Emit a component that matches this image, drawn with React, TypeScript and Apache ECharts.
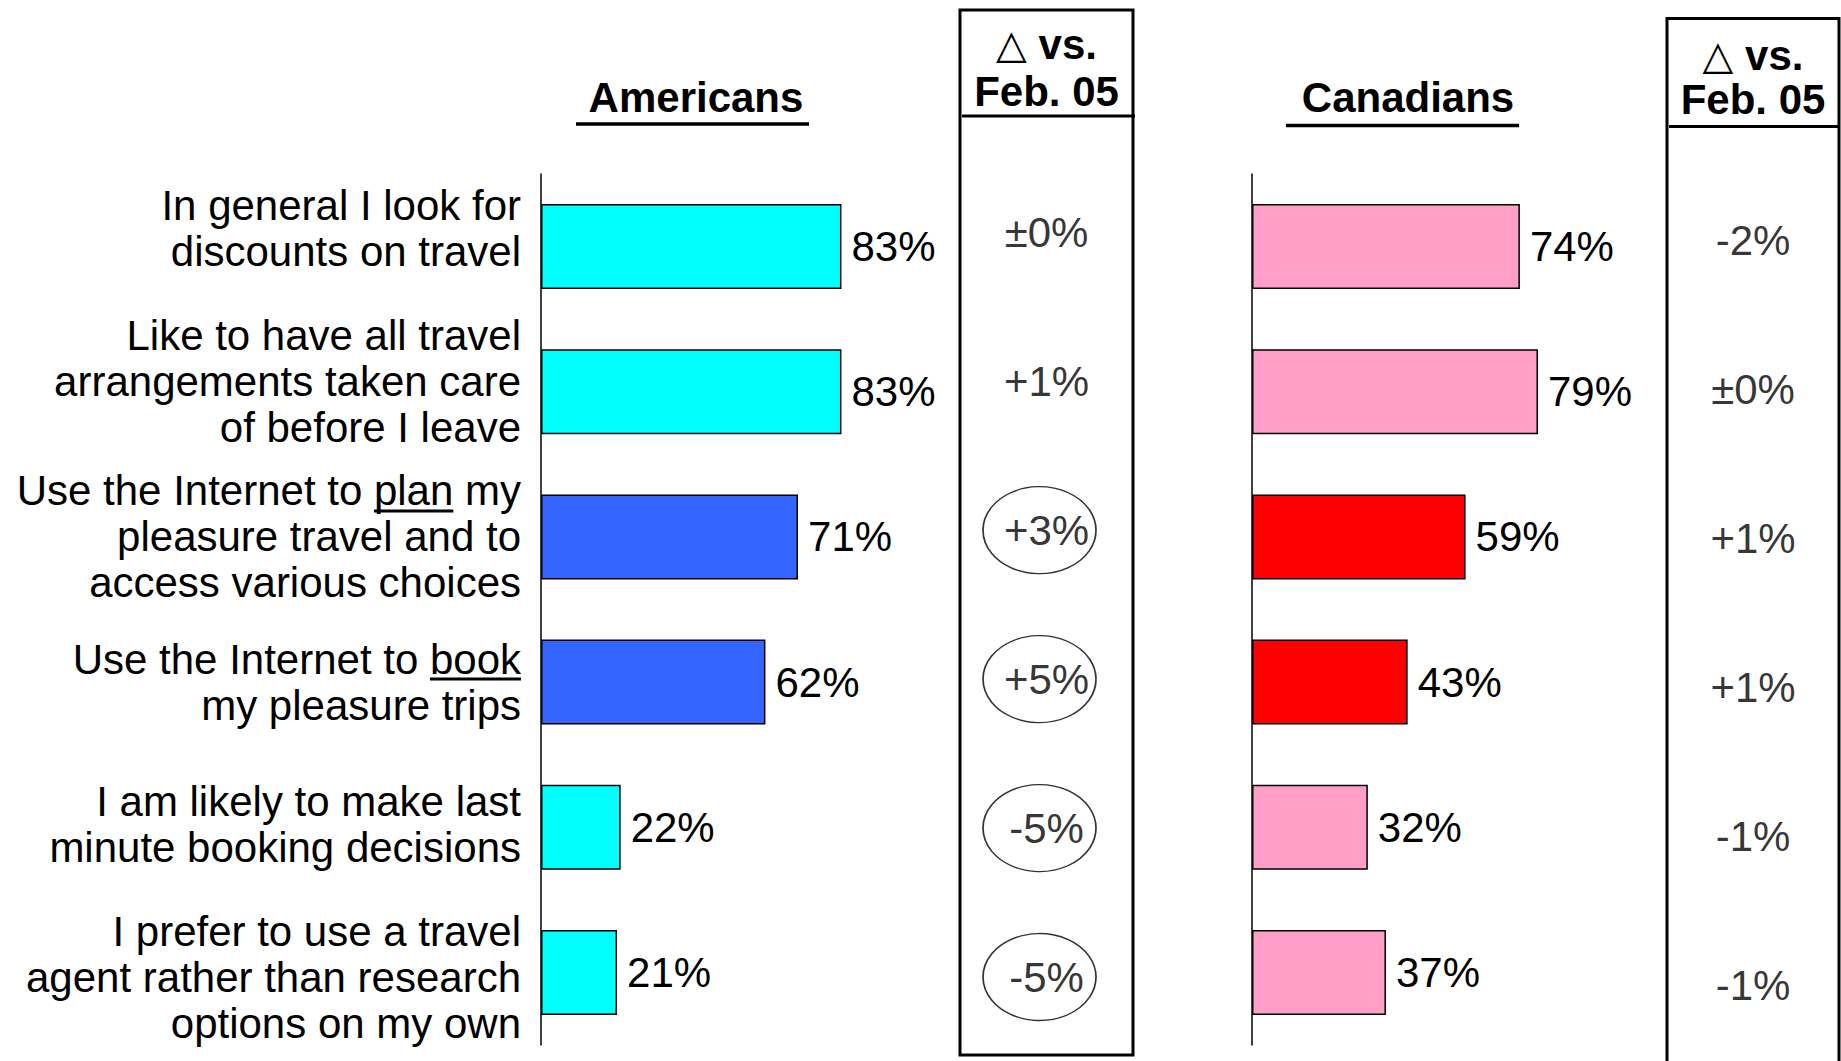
import React, { useEffect, useRef } from "react";
import * as echarts from "echarts";

// ---------- data ----------
const categories = [
  "In general I look for\ndiscounts on travel",
  "Like to have all travel\narrangements taken care\nof before I leave",
  "Use the Internet to plan my\npleasure travel and to\naccess various choices",
  "Use the Internet to book\nmy pleasure trips",
  "I am likely to make last\nminute booking decisions",
  "I prefer to use a travel\nagent rather than research\noptions on my own",
];
const underlinedWords = [null, null, "plan", "book", null, null];
const americans = [83, 83, 71, 62, 22, 21];
const canadians = [74, 79, 59, 43, 32, 37];
const highlighted = [false, false, true, true, false, false];
const americanDeltas = ["±0%", "+1%", "+3%", "+5%", "-5%", "-5%"];
const americanCircled = [false, false, true, true, true, true];
const canadianDeltas = ["-2%", "±0%", "+1%", "+1%", "-1%", "-1%"];
const titleAmericans = "Americans";
const titleCanadians = "Canadians";
const deltaTriangle = "△";
const deltaHeader1 = " vs.";
const deltaHeader2 = "Feb. 05";

// ---------- style ----------
const FONT = "'Liberation Sans', Arial, sans-serif";
const LABEL_SIZE = 42;
const LINE_H = 46;
const LABEL_MARGIN = 20;
const labelShift = [-18, -10, 0, 0, -3, 5];
const COLORS = {
  amBase: "#00FFFF",
  amHi: "#3366FF",
  caBase: "#FF9EC6",
  caHi: "#FF0000",
};

function buildRich() {
  const rich: Record<string, any> = {};
  labelShift.forEach((s) => {
    if (s !== 0) {
      const h = Math.abs(s) * 2;
      rich["sp" + h] = { lineHeight: h, fontSize: 1, height: h };
    }
  });
  return rich;
}

function labelFormatter(value: string, index: number) {
  const s = labelShift[index] || 0;
  if (s < 0) return value + "\n{sp" + Math.abs(s) * 2 + "| }";
  if (s > 0) return "{sp" + Math.abs(s) * 2 + "| }\n" + value;
  return value;
}

export default function App() {
  const ref = useRef<HTMLDivElement>(null);

  useEffect(() => {
    document.body.style.margin = "0";
    if (!ref.current) return;
    const chart = echarts.init(ref.current, null, { renderer: "svg" });

    const barLabel = {
      show: true,
      position: "right",
      distance: 10,
      formatter: "{c}%",
      color: "#000",
      fontSize: LABEL_SIZE,
      fontFamily: FONT,
    };

    const deltaSeries = (deltas: string[], circled: boolean[], idx: number) => ({
      type: "scatter",
      xAxisIndex: idx,
      yAxisIndex: idx,
      silent: true,
      data: deltas.map((_, i) => ({
        value: [0.5, i],
        symbol: "circle",
        symbolSize: circled[i] ? [113, 87] : [1, 1],
        symbolOffset: circled[i] ? [-7, 0] : [0, 0],
        itemStyle: circled[i]
          ? { color: "#fff", borderColor: "#000", borderWidth: 1.5 }
          : { color: "rgba(0,0,0,0)", borderWidth: 0 },
        label: circled[i] ? { offset: [7, 0] } : {},
      })),
      label: {
        show: true,
        position: "inside",
        formatter: (p: any) => deltas[p.dataIndex],
        color: "#000",
        fontSize: LABEL_SIZE,
        fontFamily: FONT,
      },
      z: 5,
    });

    chart.setOption({
      animation: false,
      backgroundColor: "#fff",
      textStyle: { fontFamily: FONT },
      grid: [
        { left: 541, top: 174, width: 362, height: 871 },
        { left: 1252, top: 174, width: 362, height: 871 },
        { left: 960, top: 157.8, width: 173, height: 893.7 },
        { left: 1667, top: 165.5, width: 172, height: 894 },
      ],
      xAxis: [
        { type: "value", gridIndex: 0, min: 0, max: 100, show: false },
        { type: "value", gridIndex: 1, min: 0, max: 100, show: false },
        { type: "value", gridIndex: 2, min: 0, max: 1, show: false },
        { type: "value", gridIndex: 3, min: 0, max: 1, show: false },
      ],
      yAxis: [
        {
          type: "category",
          gridIndex: 0,
          inverse: true,
          data: categories,
          axisLine: { show: true, lineStyle: { color: "#000", width: 1.5 } },
          axisTick: { show: false },
          axisLabel: {
            show: true,
            margin: LABEL_MARGIN,
            color: "#000",
            fontSize: LABEL_SIZE,
            fontFamily: FONT,
            lineHeight: LINE_H,
            align: "right",
            formatter: labelFormatter,
            rich: buildRich(),
          },
        },
        {
          type: "category",
          gridIndex: 1,
          inverse: true,
          data: categories,
          axisLine: { show: true, lineStyle: { color: "#000", width: 1.5 } },
          axisTick: { show: false },
          axisLabel: { show: false },
        },
        { type: "category", gridIndex: 2, inverse: true, data: categories, show: false },
        { type: "category", gridIndex: 3, inverse: true, data: categories, show: false },
      ],
      series: [
        {
          type: "bar",
          name: titleAmericans,
          xAxisIndex: 0,
          yAxisIndex: 0,
          barWidth: 85,
          data: americans.map((v, i) => ({
            value: v,
            itemStyle: {
              color: highlighted[i] ? COLORS.amHi : COLORS.amBase,
              borderColor: "#000",
              borderWidth: 1.5,
            },
          })),
          label: barLabel,
        },
        {
          type: "bar",
          name: titleCanadians,
          xAxisIndex: 1,
          yAxisIndex: 1,
          barWidth: 85,
          data: canadians.map((v, i) => ({
            value: v,
            itemStyle: {
              color: highlighted[i] ? COLORS.caHi : COLORS.caBase,
              borderColor: "#000",
              borderWidth: 1.5,
            },
          })),
          label: barLabel,
        },
        deltaSeries(americanDeltas, americanCircled, 2),
        deltaSeries(canadianDeltas, [false, false, false, false, false, false], 3),
      ],
    });

    // underlines for emphasised words in category labels
    const ctx = document.createElement("canvas").getContext("2d")!;
    ctx.font = `${LABEL_SIZE}px ${FONT}`;
    const underlineEls: any[] = [];
    categories.forEach((cat, i) => {
      const word = underlinedWords[i];
      if (!word) return;
      const lines = cat.split("\n");
      const first = lines[0];
      const idx = first.indexOf(word);
      const pt = chart.convertToPixel({ gridIndex: 0 } as any, [0, i]) as number[];
      const right = pt[0] - LABEL_MARGIN;
      const start =
        right - ctx.measureText(first).width + ctx.measureText(first.slice(0, idx)).width;
      const end = start + ctx.measureText(word).width;
      const y = pt[1] + labelShift[i] - ((lines.length - 1) * LINE_H) / 2 + 20;
      underlineEls.push({
        type: "line",
        shape: { x1: start, y1: y, x2: end, y2: y },
        style: { stroke: "#000", lineWidth: 3 },
      });
    });

    const boldText = (text: string, x: number, y: number, rich?: any) => ({
      type: "text",
      x,
      y,
      style: {
        text,
        fill: "#000",
        font: `bold 42px ${FONT}`,
        textAlign: "center",
        textVerticalAlign: "middle",
        align: "center",
        verticalAlign: "middle",
        rich,
      },
    });
    const triRich = {
      t: { fontSize: 40, fontWeight: "normal", fontFamily: "'DejaVu Sans', sans-serif", fill: "#000" },
      v: { fontSize: 42, fontWeight: "bold", fontFamily: FONT, fill: "#000" },
    };
    const triText = `{t|${deltaTriangle}}{v|${deltaHeader1}}`;
    const line = (x1: number, y1: number, x2: number, y2: number, w: number) => ({
      type: "line",
      shape: { x1, y1, x2, y2 },
      style: { stroke: "#000", lineWidth: w },
    });

    chart.setOption({
      graphic: [
        // Americans title
        boldText(titleAmericans, 696, 97),
        line(576, 124, 809, 124, 3.5),
        // Canadians title
        boldText(titleCanadians, 1408, 97),
        line(1286, 125.5, 1519, 125.5, 3.5),
        // left delta box
        {
          type: "rect",
          shape: { x: 960, y: 10, width: 173, height: 1045 },
          style: { fill: "none", stroke: "#000", lineWidth: 3 },
        },
        line(962, 116, 1135, 116, 3),
        boldText(triText, 1046.5, 44, triRich),
        boldText(deltaHeader2, 1046.5, 91),
        // right delta box
        {
          type: "rect",
          shape: { x: 1667, y: 18.5, width: 172, height: 1070 },
          style: { fill: "none", stroke: "#000", lineWidth: 3 },
        },
        line(1669, 126.5, 1839, 126.5, 3),
        boldText(triText, 1753, 55, triRich),
        boldText(deltaHeader2, 1753, 99.5),
        ...underlineEls,
      ],
    });

    return () => chart.dispose();
  }, []);

  return <div ref={ref} style={{ width: 1841, height: 1061 }} />;
}
